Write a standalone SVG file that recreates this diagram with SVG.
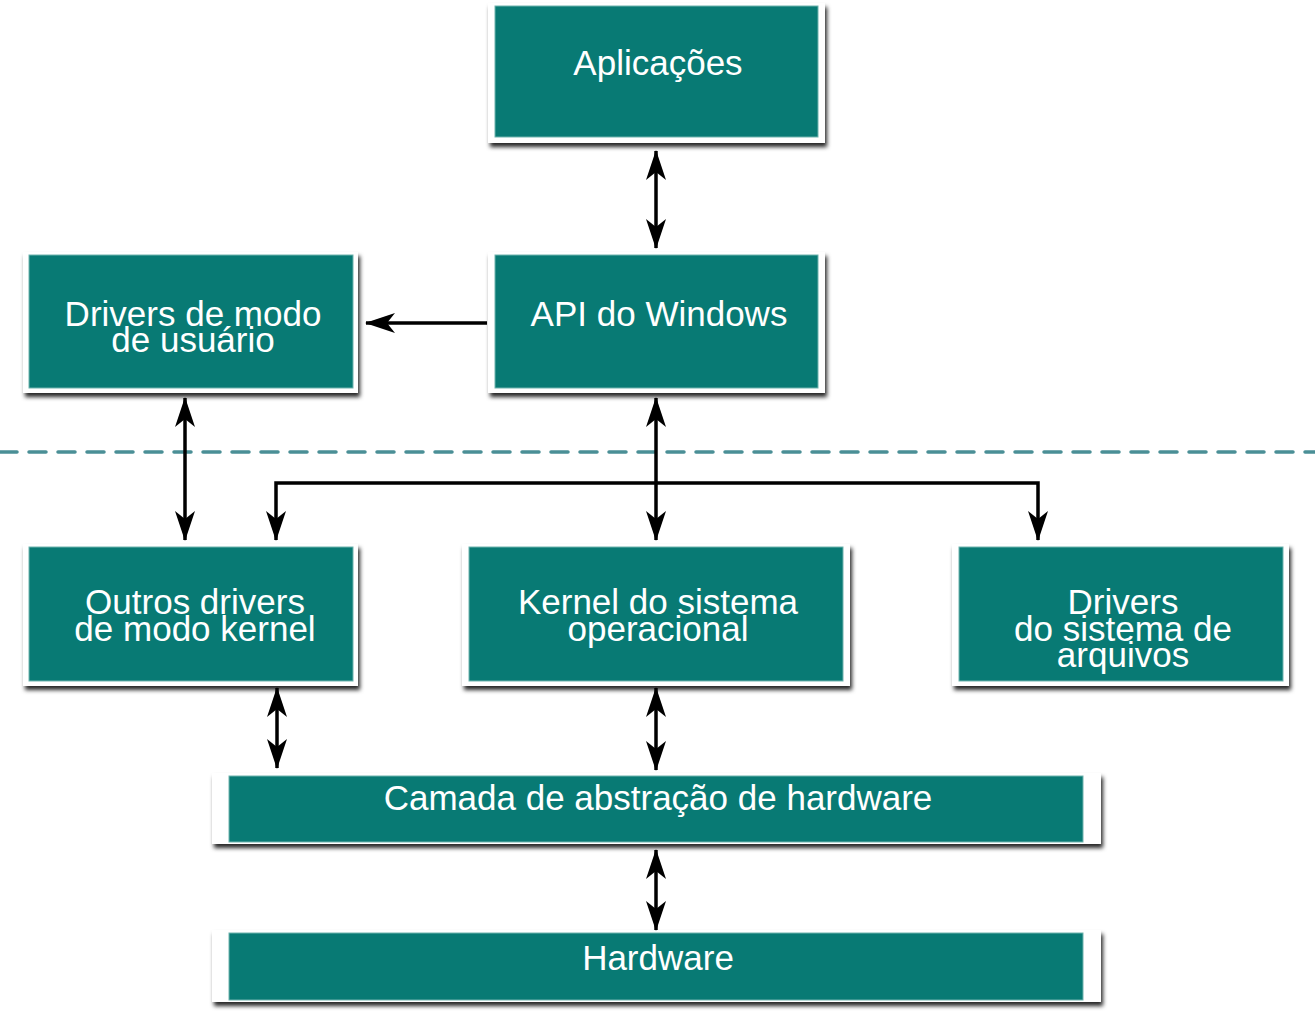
<svg xmlns="http://www.w3.org/2000/svg" width="1315" height="1015" viewBox="0 0 1315 1015">
<style>
.frame{fill:#ffffff;filter:url(#sh)}
.box{fill:#087a74;stroke:#6fb3ae;stroke-width:1}
.t{font-family:"Liberation Sans",Arial,sans-serif;font-size:35px;fill:#ffffff;text-anchor:middle}
.c{stroke:#000;stroke-width:3.5;fill:none}
</style>
<defs>
<filter id="sh" x="-5%" y="-10%" width="115%" height="130%">
<feDropShadow dx="2" dy="4" stdDeviation="2" flood-color="#000" flood-opacity="0.85"/>
</filter>
<marker id="ah" viewBox="0 0 30 20" refX="29" refY="10" markerWidth="30" markerHeight="20" markerUnits="userSpaceOnUse" orient="auto-start-reverse">
<path d="M0,0 L30,10 L0,20 L8,10 Z" fill="#000"/>
</marker>
</defs>
<line x1="0" y1="452" x2="1315" y2="452" stroke="#4a8f96" stroke-width="3.5" stroke-dasharray="17 12" stroke-linecap="round"/>
<g id="aplicacoes">
<rect class="frame" x="488" y="3" width="337" height="140"/>
<rect class="box" x="495" y="6" width="323" height="131"/>
<text class="t" x="658" y="75">Aplicações</text>
</g>
<g id="api">
<rect class="frame" x="488" y="252" width="337" height="141"/>
<rect class="box" x="495" y="255" width="323" height="133"/>
<text class="t" x="659" y="326">API do Windows</text>
</g>
<g id="usuario">
<rect class="frame" x="23" y="252" width="335" height="141"/>
<rect class="box" x="29" y="255" width="324" height="133"/>
<text class="t" x="193" y="326">Drivers de modo</text>
<text class="t" x="193" y="352">de usuário</text>
</g>
<g id="outros">
<rect class="frame" x="23" y="544" width="335" height="142"/>
<rect class="box" x="29" y="547" width="324" height="134"/>
<text class="t" x="195" y="614">Outros drivers</text>
<text class="t" x="195" y="641">de modo kernel</text>
</g>
<g id="kernel">
<rect class="frame" x="462" y="544" width="388" height="142"/>
<rect class="box" x="469" y="547" width="374" height="134"/>
<text class="t" x="658" y="614">Kernel do sistema</text>
<text class="t" x="658" y="641">operacional</text>
</g>
<g id="fs">
<rect class="frame" x="952" y="544" width="337" height="142"/>
<rect class="box" x="959" y="547" width="324" height="134"/>
<text class="t" x="1123" y="614">Drivers</text>
<text class="t" x="1123" y="641">do sistema de</text>
<text class="t" x="1123" y="667">arquivos</text>
</g>
<g id="hal">
<rect class="frame" x="212" y="773" width="889" height="71"/>
<rect class="box" x="229" y="776" width="854" height="66"/>
<text class="t" x="658" y="810">Camada de abstração de hardware</text>
</g>
<g id="hardware">
<rect class="frame" x="212" y="930" width="889" height="72"/>
<rect class="box" x="229" y="933" width="854" height="67"/>
<text class="t" x="658" y="970">Hardware</text>
</g>
<g id="connectors">
<line class="c" x1="656" y1="151" x2="656" y2="248" marker-start="url(#ah)" marker-end="url(#ah)"/>
<line class="c" x1="487" y1="323" x2="366" y2="323" marker-end="url(#ah)"/>
<line class="c" x1="656" y1="398" x2="656" y2="540" marker-start="url(#ah)" marker-end="url(#ah)"/>
<line class="c" x1="185" y1="398" x2="185" y2="540" marker-start="url(#ah)" marker-end="url(#ah)"/>
<polyline class="c" points="276,540 276,483 1038,483 1038,540" marker-start="url(#ah)" marker-end="url(#ah)"/>
<line class="c" x1="277" y1="688" x2="277" y2="768" marker-start="url(#ah)" marker-end="url(#ah)"/>
<line class="c" x1="656" y1="688" x2="656" y2="770" marker-start="url(#ah)" marker-end="url(#ah)"/>
<line class="c" x1="656" y1="850" x2="656" y2="930" marker-start="url(#ah)" marker-end="url(#ah)"/>
</g>
</svg>
